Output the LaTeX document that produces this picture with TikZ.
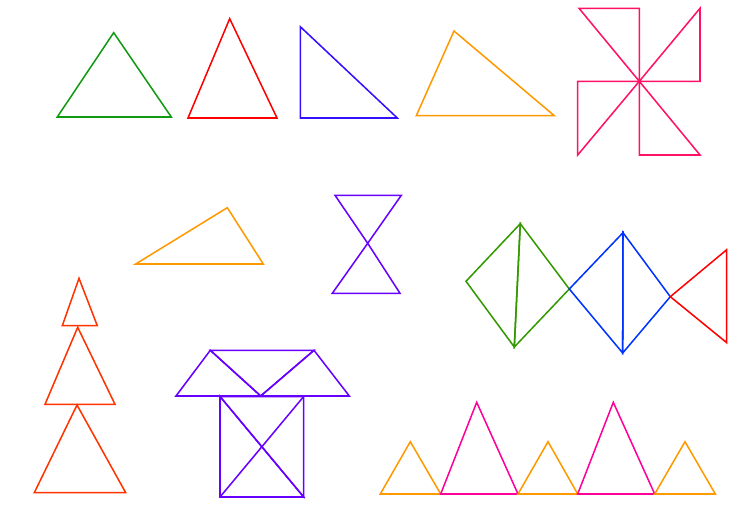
\documentclass[tikz,border=0pt]{standalone}
\usepackage{tikz}
\usepackage{xcolor}
\definecolor{leafgreen}{HTML}{119911}
\definecolor{brightred}{HTML}{FF0000}
\definecolor{indigo}{HTML}{3311FF}
\definecolor{amber}{HTML}{FF9900}
\definecolor{rose}{HTML}{FF1166}
\definecolor{ember}{HTML}{FF3300}
\definecolor{violet}{HTML}{6600FF}
\definecolor{olive}{HTML}{339900}
\definecolor{royal}{HTML}{0033FF}
\definecolor{magenta}{HTML}{FF0099}

\begin{document}
\begin{tikzpicture}[
    x=0.03cm, y=-0.03cm,
    tri/.style={draw=#1, line width=1.3pt, line join=miter},
    tri/.default=black,
  ]
  \useasboundingbox (0,0) rectangle (748,516);

  % top row
  \draw[tri=leafgreen] (57.3,117) -- (113.7,32.7) -- (171.3,117) -- cycle;
  \draw[tri=brightred] (188,118) -- (229.7,18.7) -- (277,118) -- cycle;
  \draw[tri=indigo]    (300.3,26.7) -- (300.3,118) -- (397.3,118) -- cycle;
  \draw[tri=amber]     (416.3,115.7) -- (454,31) -- (554.3,115.7) -- cycle;

  % pinwheel
  \coordinate (hub) at (639.3,81.3);
  \draw[tri=rose] (hub) -- (579,8.3) -- (639.3,8.3) -- cycle;
  \draw[tri=rose] (hub) -- (700,8.3) -- (700,81.3) -- cycle;
  \draw[tri=rose] (hub) -- (577.7,81.3) -- (577.7,155) -- cycle;
  \draw[tri=rose] (hub) -- (639.3,155) -- (700,155) -- cycle;

  % middle
  \draw[tri=amber] (135.7,264) -- (227.3,207.7) -- (263.3,264) -- cycle;

  % hourglass
  \coordinate (waist) at (367.7,243.3);
  \draw[tri=violet] (waist) -- (335,195.3) -- (401.3,195.3) -- cycle;
  \draw[tri=violet] (waist) -- (332.3,293.3) -- (400,293.3) -- cycle;

  % fish
  \coordinate (gtop) at (520.3,223.7);
  \coordinate (gbot) at (514.3,347);
  \coordinate (neck) at (569.3,289);
  \coordinate (btop) at (623,232.7);
  \coordinate (bbot) at (622.7,353);
  \coordinate (tail) at (670.3,296.7);
  \draw[tri=olive] (gtop) -- (466,281.3) -- (gbot) -- cycle;
  \draw[tri=olive] (gtop) -- (neck) -- (gbot) -- cycle;
  \draw[tri=royal] (neck) -- (btop) -- (bbot) -- cycle;
  \draw[tri=royal] (btop) -- (tail) -- (bbot) -- cycle;
  \draw[tri=brightred] (tail) -- (726.7,249.7) -- (726.7,342.7) -- cycle;

  % tree
  \draw[tri=ember] (62.3,325.7) -- (79,278.3) -- (97.3,325.7) -- cycle;
  \draw[tri=ember] (45,404.3) -- (77.7,327.3) -- (115,404.3) -- cycle;
  \draw[tri=ember] (34.3,492.7) -- (77,405) -- (125.7,492.7) -- cycle;

  % house
  \coordinate (eaveL) at (210.3,350.3);
  \coordinate (eaveR) at (314,350.3);
  \coordinate (mid)   at (260.7,396);
  \draw[tri=violet] (176,396) -- (eaveL) -- (mid) -- cycle;
  \draw[tri=violet] (eaveL) -- (eaveR) -- (mid) -- cycle;
  \draw[tri=violet] (mid) -- (eaveR) -- (349.3,396) -- cycle;
  \coordinate (sqTL) at (220,396.5);
  \coordinate (sqTR) at (303.7,396.5);
  \coordinate (sqBL) at (220,497);
  \coordinate (sqBR) at (303.7,497);
  \draw[tri=violet] (sqTL) -- (sqBL) -- (sqBR) -- cycle;
  \draw[tri=violet] (sqTL) -- (sqTR) -- (sqBR) -- cycle;
  \draw[tri=violet] (sqBL) -- (sqTR);

  % bottom row
  \draw[tri=amber]   (380.3,494) -- (410.3,441.7) -- (440.7,494) -- cycle;
  \draw[tri=magenta] (440.7,494) -- (476.7,402.3) -- (518,494) -- cycle;
  \draw[tri=amber]   (518,494) -- (548,441.7) -- (577.7,494) -- cycle;
  \draw[tri=magenta] (577.7,494) -- (613.3,402.3) -- (654.7,494) -- cycle;
  \draw[tri=amber]   (654.7,494) -- (685,441.7) -- (715.3,494) -- cycle;
\end{tikzpicture}
\end{document}
